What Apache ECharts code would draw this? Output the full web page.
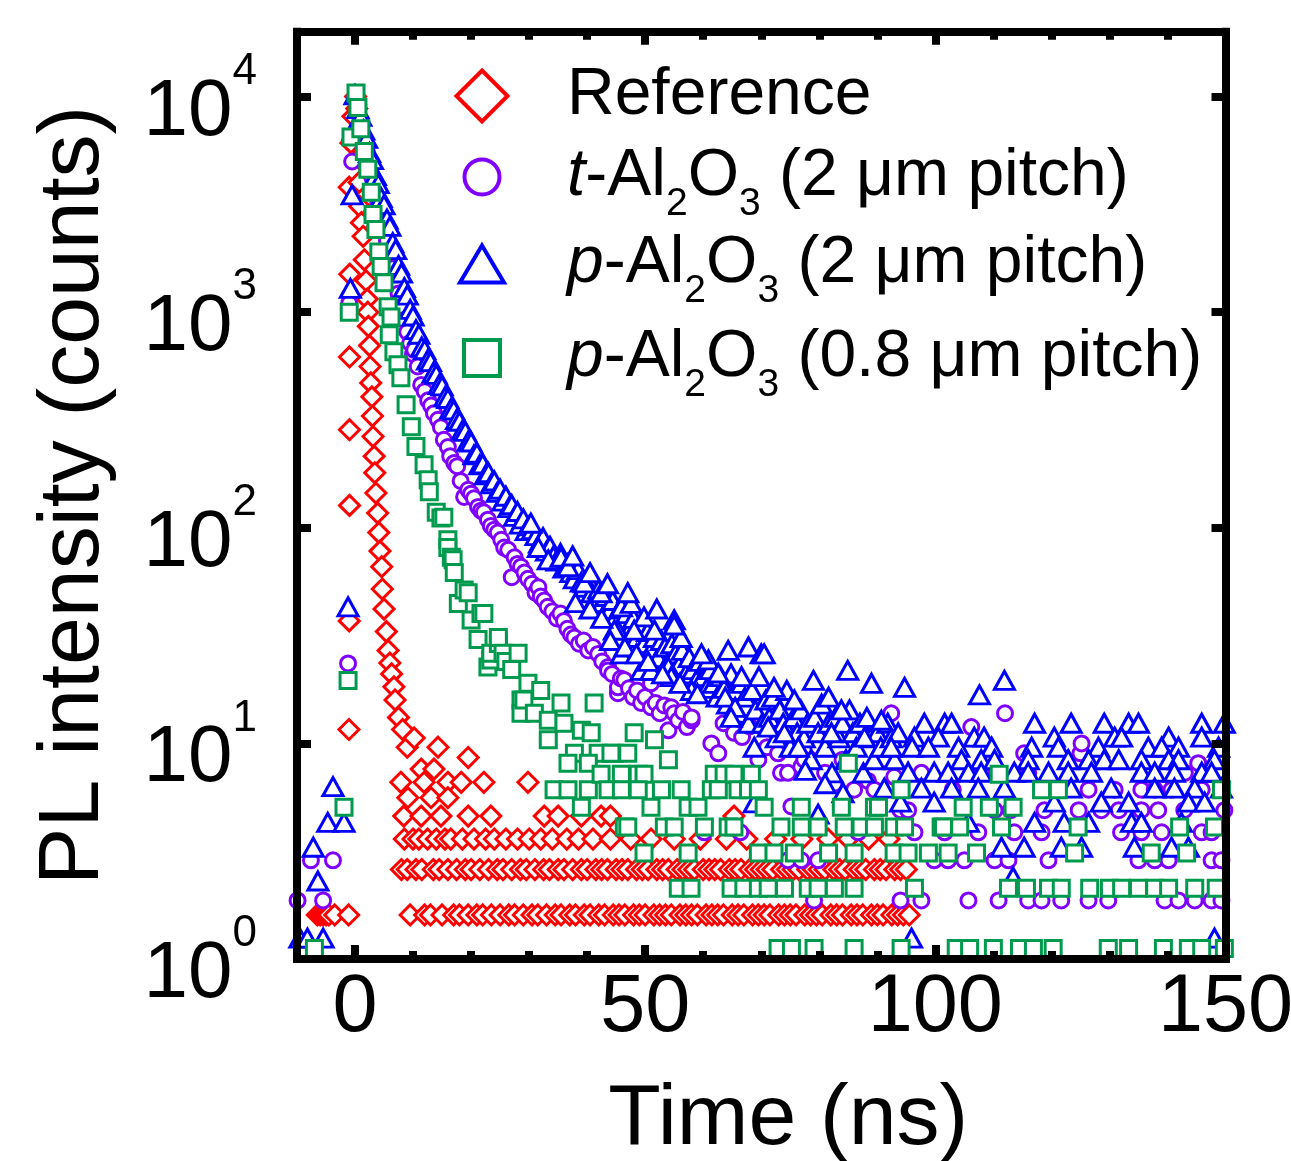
<!DOCTYPE html>
<html>
<head>
<meta charset="utf-8">
<script src="https://cdn.jsdelivr.net/npm/echarts@6/dist/echarts.min.js"></script>
<style>
  html, body { margin: 0; padding: 0; background: #fff; }
  #chart { width: 1291px; height: 1161px; }
</style>
</head>
<body>
<div id="chart"></div>
<script>
// PL decay traces, [time (ns), counts]

var referenceData = [
  [-6.5,1.6],[-6,1.6],[-5.5,1.6],[-5,1.6],[-4.5,1.6],[-3.5,1.6],[-1.1,1.6],
  [-1.05,11.6],[-1,37],[-0.95,127],[-0.95,285],[-0.95,620],[-0.9,1500],[-1,3800],[-0.7,6100],[-0.35,8100],
  [0.1,10000],[0.3,8800],[0.5,6800],[0.6,5200],[0.7,4000],[0.8,3100],[1.1,2600],[1.4,2250],[1.6,1750],[1.9,1400],
  [2.1,1150],[2.2,1000],[2.3,860],[2.5,700],[2.6,560],[2.7,470],[2.9,405],[3,330],[3.1,265],[3.3,215],[3.4,180],
  [3.6,145],[3.9,117],[4.1,95],[4.3,78],[4.6,66],[4.7,52],[5,42],[5.4,33],[5.7,27],[6,23.6],[6.3,21],[6.7,18.3],
  [6.9,15.9],[7.5,13.2],[8.2,11.6],[9,9.6],[10.2,10.6],
  [7.9,6.6],[8.4,4.6],[9.1,5.6],[11.4,7.6],[11.9,6.6],[11.4,4.6],[13.1,5.6],[13.6,7.6],[14.3,9.6],[14.8,4.6],
  [16,6.6],[16,5.6],[18.3,6.6],[19.5,8.6],[19.5,4.6],[22.2,6.6],[23.4,4.6],[29.8,6.6],[32.6,4.6],[35,4.6],
  [39,4.6],[42.4,4.6],[44,4.6],[65.3,4.6],
  [8,2.6],[8.5,3.6],[9,2.6],[9.5,1.6],[10,3.6],[10.5,2.6],[11,3.6],[11.5,2.6],[12,1.6],[12.5,3.6],[13,1.6],
  [13.5,2.6],[14,3.6],[14.5,2.6],[15,1.6],[15.5,3.6],[16,2.6],[16.5,3.6],[17,1.6],
  [17.5,2.6],[18,1.6],[18.5,3.6],[19,2.6],[19.5,1.6],[20,2.6],[20.5,3.6],[21,1.6],[21.5,2.6],[22,1.6],[22.5,3.6],
  [23,2.6],[23.5,1.6],[24,3.6],[24.5,2.6],[25,1.6],[25.5,2.6],[26,3.6],[26.5,1.6],[27,2.6],[27.5,1.6],[28,3.6],
  [28.5,2.6],[29,1.6],[29.5,2.6],[30,3.6],[30.5,1.6],[31,2.6],[31.5,1.6],[32,3.6],[32.5,2.6],[33,1.6],[33.5,2.6],
  [34,3.6],[34.5,1.6],[35,2.6],[35.5,1.6],[36,2.6],[36.5,3.6],[37,1.6],[37.5,2.6],[38,1.6],[38.5,3.6],[39,2.6],
  [39.5,1.6],[40,2.6],
  [40.5,1.6],[41,3.6],[41.5,2.6],[42,1.6],[42.5,2.6],[43,1.6],[43.5,2.6],[44,3.6],[44.5,1.6],[45,2.6],[45.5,1.6],
  [46,2.6],[46.5,1.6],[47,2.6],[47.5,3.6],[48,1.6],[48.5,2.6],[49,1.6],[49.5,2.6],[50,1.6],[50.5,2.6],[51,3.6],
  [51.5,1.6],[52,2.6],[52.5,1.6],[53,2.6],[53.5,1.6],[54,2.6],[54.5,1.6],[55,3.6],[55.5,2.6],[56,1.6],[56.5,2.6],
  [57,1.6],[57.5,2.6],[58,1.6],[58.5,2.6],[59,1.6],[59.5,3.6],[60,2.6],[60.5,1.6],[61,2.6],[61.5,1.6],[62,2.6],
  [62.5,1.6],[63,2.6],[63.5,1.6],[64,3.6],[64.5,2.6],[65,1.6],[65.5,2.6],[66,1.6],[66.5,2.6],[67,1.6],[67.5,3.6],
  [68,2.6],[68.5,1.6],[69,2.6],[69.5,1.6],[70,2.6],[70.5,1.6],[71,2.6],[71.5,1.6],[72,2.6],[72.5,3.6],[73,1.6],
  [73.5,2.6],[74,1.6],[74.5,2.6],[75,1.6],[75.5,2.6],[76,1.6],[76.5,2.6],[77,3.6],[77.5,1.6],[78,2.6],[78.5,1.6],
  [79,2.6],[79.5,1.6],[80,2.6],[80.5,1.6],[81,2.6],[81.5,3.6],[82,1.6],[82.5,2.6],[83,1.6],[83.5,2.6],[84,1.6],
  [84.5,2.6],[85,3.6],[85.5,1.6],[86,2.6],[86.5,1.6],[87,2.6],[87.5,1.6],[88,2.6],[88.5,3.6],[89,1.6],[89.5,2.6],
  [90,1.6],[90.5,2.6],[91,1.6],[91.5,2.6],[92,3.6],[92.5,1.6],[93,2.6],[93.5,1.6],[94,2.6],[94.5,1.6],[95,2.6],
  [95.5,1.6]
];

var tPitch2Data = [
  [-9.9,1.87],[-7.6,2.87],[-5.5,1.87],[-3.8,2.87],[-1.2,23.5],[-1,1100],[-0.5,5000],
  [0,9800],[0.5,8500],[1,7400],[1.5,6400],[2,5600],[2.5,4900],[3,4200],[3.5,3700],[4,3200],[4.5,2800],[5,2450],
  [5.5,2150],[6,1850],[6.5,1600],[7,1400],[7.5,1220],[8,1060],[8.5,920],[9,810],[9.5,720],[10,640],
  [10.2,668],[10.8,560],[11.4,460],[12,430],[12.6,390],[13.1,369],[13.6,340],[14.3,317],[14.8,293],[15.3,256],
  [16,237],[16.4,215],[17.1,200],[17.6,193],[18.2,165],[18.8,139],[19.5,150],[20,144],[20.5,137],[21.2,125],
  [21.7,120],[22.2,118],[22.9,109],[23.4,102],[24,98],[24.6,95],[25.2,88],[25.7,81],[26.4,79],[27,59],[27.5,73],
  [28,68],[28.6,66],[29.2,62],[29.8,58],[30.5,55],[31.1,50],[31.6,53],[32,48],[32.6,46],[33.2,43],[34,41],
  [34.8,38],[35.4,40],[36,37],[36.6,34],[37.2,32],[37.8,31],[38.6,29],[39.4,30],[40.2,27],[41,28],[41.9,26],
  [42.6,24],[43.6,22.6],[43.6,21.8],[44.3,21],[45.3,17.1],[45.3,18.2],[45.8,20],[46.4,19.7],[47.2,18],[47.9,16.4],
  [48.6,17.6],[49.3,15.4],[50,16.4],[51,14.7],[51,19],[51.8,15.4],[52.5,13.8],[53.3,15],[54,11.5],[54.5,14.7],
  [55,13.8],[55.7,12.8],[56.5,14],[57.2,11.9],[58,12.8],[58,13.2],
  [60.2,3.87],[61.4,10],[62.6,9],[63.5,12.4],[65.3,11.2],[66.4,3.87],[66.7,10.7],[68,12],[69.5,8.4],[71,9.6],
  [72.2,11.5],[72.9,9],[73.4,7.3],[74.6,7.3],[74.6,2.87],[75.2,5.1],[76.9,7.8],[76.9,2.87],[77.4,8.4],[79.1,1.87],
  [79.8,9.6],[79.8,2.87],[81,7.3],[82.6,6.5],[84,8.4],[86,6.1],[86.7,3.87],[88.4,6.7],[89.5,6.1],[91,8.4],
  [92.4,13.8],[92.9,7],[94,4.9],
  [94,1.87],[97.6,1.87],[105.7,1.87],[110.9,1.87],[116,1.87],[118.3,1.87],[121.7,1.87],[126.4,1.87],[129.8,1.87],
  [139.5,1.87],[141.9,1.87],[144.7,1.87],[147.6,1.87],[149.3,1.87],
  [99.8,2.87],[102.2,2.87],[105,2.87],[110.2,2.87],[112.6,2.87],[119.5,2.87],[135,2.87],[137.8,2.87],[140.2,2.87],
  [147.6,2.87],[149.3,2.87],
  [96.4,3.87],[101.6,3.87],[107.4,3.87],[113.6,3.87],[118.3,3.87],[132,3.87],[135.5,3.87],[139,3.87],[145.9,3.87],
  [147.6,3.87],
  [95.3,4.9],[110.2,4.9],[113,4.9],[118.8,4.9],[124.7,4.9],[128.6,4.9],[131.6,4.9],[135.5,4.9],[138.4,4.9],
  [142.9,4.9],[149.8,4.9],
  [103,6.1],[126.4,6.1],[130.9,6.1],[135.5,6.1],[137.8,6.1],[140.7,6.1],[145.9,6.1],
  [97.6,7.3],[108,7.3],[116,7.3],[143,7.3],[115.3,9],[125,9],[125.2,10],[106.2,11.9],[145.3,8.1],[112,13.8]
];

var pPitch2Data = [
  [-9.5,1.25],[-8.2,1.25],[-5.5,1.25],[-7.2,3.3],[-6.4,2.3],[-4.7,4.3],[-3.8,6.3],[-1.9,4.3],[-1.2,43],
  [-0.8,1290],[-0.5,3500],[-0.3,7000],
  [0,10200],[0.5,8800],[1,8100],[1.5,7000],[2,6400],[2.5,5500],[3,5100],[3.5,4300],[4,3950],[4.5,3400],[5,3150],
  [5.5,2700],[6,2500],[6.5,2100],[7,1950],[7.5,1650],[8,1520],[8.5,1300],[9,1200],[9.5,1030],[10,960],[10.5,830],
  [11,790],[11.5,690],[12,670],[12.5,600],[13,590],[13.5,525],[14,515],[14.5,462],[15,455],[15.5,405],[16,398],
  [16.5,356],[17,352],[17.5,318],[18,312],[18.5,283],[19,280],[19.5,252],[20,250],[20.5,218],[21,222],[21.5,196],
  [22,198],[22.5,176],[23,180],[23.5,160],[24,165],[24.5,146],[25,151],[25.5,133],[26,140],[26.5,124],[27,128],
  [27.5,113],[28,119],[28.5,104],[29,110],[29.5,97],[30,102],
  [30.6,98],[31.2,92],[31.8,85],[32.4,90],[33,78],[33.6,82],[34.2,74],[34.8,70],[35.4,76],[36,65],[36.6,68],
  [37.2,62],[37.8,58],[38.4,64],[39,56],[39.6,53],[40.2,58],[40.8,50],[41.4,47],[42,52],[42.6,45],[43.2,48],
  [43.8,41],[44.4,46],[45,39],[45.6,42],[46.2,36],[46.8,40],[47.4,34],[48,38],[48.6,31],[49.2,36],[49.8,29],
  [50.4,33],[51,27],[51.6,31],[52.2,25],[52.8,30],[53.4,28],[54,24],[54.6,29],[55.2,26],[55.8,23],[56.4,27],
  [57,21],[57.6,25],[58.2,22],[58.8,19.6],[59.4,24],[60,20.4],[60.6,18],[61.2,22],[61.8,19],[62.4,16.4],[63,20.4],
  [63.6,18],[64.2,15.2],[64.8,21],[65.4,17.6],[66,13.8],[66.6,19],[67.2,16.4],[67.8,12.4],[68.4,17.6],[69,14.3],
  [69.6,20.4],[70.2,12.4],[70.8,15.9],[71.4,13.2],[72,16.4],[72.6,10.6],[73.2,14.3],[73.8,12.4],[74.4,17.6],
  [75,9.6],[75.6,13.2],[76.2,11.2],[76.8,14.3],[77.4,10.6],[78,12.4],[78.6,8.4],[79.2,13.2],[79.8,11.2],[80.4,15.2],
  [81,9.6],[81.6,12.4],[82.2,7.3],[82.8,13.2],[83.4,10.6],[84,12.4],[84.6,8.4],[85.2,14.3],[85.8,11.2],[86.4,9.6],
  [87,12.4],[87.6,7.3],[88.2,13.2],[88.8,10.6],[89.4,8.4],[90,11.2],[90.6,9.6],[91.2,6.2],[91.8,12.4],[92.4,10.6],
  [93,8.4],[93.6,11.2],
  [30.3,105],[31.6,81],[33.3,71],[35.5,73],[36.7,66],[39.5,55.5],[42.4,50],[45.9,43],[47.6,44.6],[49.8,38.6],
  [55,37.4],[51.6,33.5],[45.3,33.5],[56.2,31],[64.3,27],[67.8,28],[70,26],[54,22.6],[60.9,24.4],[62.6,21.2],
  [66.6,20.4],[58,17.6],[63.8,16.4],[65.5,14.7],[49.3,21.8],[45.9,26],[44.7,33.5],[48.1,33.5],[55,35.4],
  [59.7,26],[70.5,26],[79,19.6],[84.9,21.8],[89,19],[94.7,18.2],[51,21.8],[54.5,20.4],[72.2,18.2],[75.7,15.9],
  [81.6,16.4],[83.8,14.3],[90.7,12.8],[64.8,13.2],[71.2,11.9],[74,11.2],[68.8,9.6],[76.4,9.6],[82.1,11.2],
  [87.8,10.7],[92.4,9.6],[77.6,7.5],[81,6.5],[84.1,5.9],[68.8,5.3],[79.8,4.7],
  [38,45],[40.5,42],[42.5,38],[44,30],[46.5,28],[48.5,26],[50.5,24],[53,21],[56,19],[59,17],
  [37.5,74],[40.5,62],[43.5,55],[47,50],[52,42],
  [98.1,12.4],[101.6,12.4],[102.8,12.4],[117.1,12.4],[123.4,12.4],[129.1,12.4],[133.3,12.4],[135,12.4],[145.9,12.4],
  [149.8,12.4],
  [96.4,10.7],[100.5,10.7],[106.7,10.7],[108.4,10.7],[120.5,10.7],[130.9,10.7],[132.1,10.7],[140.2,10.7],[145.9,10.7],
  [96,9.6],[98.8,9.6],[104,9.6],[109.7,9.6],[116.6,9.6],[121.2,9.6],[128.1,9.6],[136.7,9.6],[139,9.6],[141.9,9.6],
  [148.8,9.6],
  [104.5,8.4],[107.9,8.4],[110.2,8.4],[116,8.4],[122.9,8.4],[126.4,8.4],[129.1,8.4],[131.6,8.4],[135.5,8.4],
  [140.2,8.4],[141.9,8.4],[148.1,8.4],
  [95.3,7.35],[99.8,7.35],[102.2,7.35],[105.7,7.35],[107.9,7.35],[113.6,7.35],[116,7.35],[119.5,7.35],[122.9,7.35],
  [126.9,7.35],[135.5,7.35],[137.8,7.35],[141.2,7.35],[145.9,7.35],[147.6,7.35],
  [97.6,6.2],[102.8,6.2],[107.4,6.2],[111.9,6.2],[123.4,6.2],[130.3,6.2],[137.8,6.2],[141.2,6.2],[144.7,6.2],
  [149.3,6.2],
  [94,5.34],[99.8,5.34],[120.5,5.34],[128.6,5.34],[133.3,5.34],[143.6,5.34],[146.4,5.34],
  [105.7,4.3],[117.1,4.3],[122.2,4.3],[126.4,4.3],[133.8,4.3],[135.5,4.3],[142.4,4.3],
  [111.4,3.3],[115.3,3.3],[121.7,3.3],[125.2,3.3],[134.3,3.3],[140.7,3.3],[143.6,3.3],
  [113.4,2.4],[95.9,1.25],[148.1,1.25],[107.6,16.8],[111.9,19.6]
];

var pPitch08Data = [
  [-7,1.12],[-1.9,5.05],[-1.2,19.6],[-1,1000],[-0.7,6500],
  [0.17,10400],[0.5,8900],[1,7100],[1.6,5560],[2.2,4600],[2.8,3600],[3.1,2840],[3.6,2420],[4.1,1900],[4.5,1630],
  [5,1370],[5.7,1060],[6.2,950],[5.9,786],[6.7,656],[7.4,570],[7.9,497],[8.8,372],[9.7,294],[10.5,238],[11.9,196],
  [12.6,167],[12.8,147],[14,118],[14.8,111],[15.3,112],[16,88],[16,81],[16.6,73],[16.9,71],[17.1,62],[17.8,44.6],
  [18.8,51.5],[19.5,50],[20,37.4],[21.2,30.3],[21.7,40],[22.2,40],[22.9,22.6],[23.4,24.4],[23.4,26.2],[24.7,29.1],
  [24.7,31],[25.5,26.2],[26,24],[27,22],[28.1,26.2],[28.6,15.9],[28.6,13.8],[29.8,19],[29.1,15.9],[30.9,13.8],
  [32,17.6],[33.3,12.8],[33.3,10.4],[35.5,15.4],[36,12.4],[37.8,9],[36.7,8.1],[39,11.5],[40.7,11.2],[41.2,15.4],
  [41.9,9],[44.7,9],[40.2,8.1],[34.3,6.1],[36.7,6.1],[40.2,6.1],[39,5.05],[46.4,4.1],
  [48.1,11.2],[51.6,10.4],[54,8.4],[44.1,9],[47,9],
  [42.4,7.2],[45.9,7.2],[48.8,7.2],[49.8,7.2],[61.9,7.2],[63.6,7.2],[65.3,7.2],[68.3,7.2],[85,8.1],
  [43.6,6.1],[45.9,6.1],[48.8,6.1],[52.8,6.1],[56.2,6.1],[61.4,6.1],[62.6,6.1],[66,6.1],[67.8,6.1],[69.5,6.1],
  [94.1,6.1],
  [51,5.05],[57.4,5.05],[59.1,5.05],[70.5,5.05],[76.9,5.05],[83.8,5.05],[89.5,5.05],[90.2,5.05],
  [47,4.1],[53.3,4.1],[55,4.1],[60.2,4.1],[64.3,4.1],[65.3,4.1],[73.4,4.1],[76.9,4.1],[79.8,4.1],[84.3,4.1],
  [87.2,4.1],[89.5,4.1],[92.9,4.1],[94.7,4.1],[101,4.1],
  [49.8,3.1],[57.4,3.1],[69.5,3.1],[72.2,3.1],[75.7,3.1],[81.6,3.1],[86,3.1],[92.9,3.1],[95.3,3.1],[98.8,3.1],
  [102.2,3.1],
  [55.7,2.13],[57.9,2.13],[64.8,2.13],[67,2.13],[69.5,2.13],[71.2,2.13],[74,2.13],[78.1,2.13],[79.8,2.13],
  [82.6,2.13],[86,2.13],[96.4,2.13],
  [72.9,1.12],[75.2,1.12],[79.1,1.12],[86,1.12],[94.1,1.12],
  [111,7.2],[118.3,6.1],[121.2,6.1],[149.3,6.1],
  [104.8,5.05],[109.3,5.05],[113.4,5.05],
  [101.4,4.1],[104.2,4.1],[111.4,4.1],[124.6,4.1],[142.1,4.1],[148.1,4.1],
  [107.1,3.1],[124,3.1],[137.2,3.1],[143.3,3.1],
  [112.6,2.13],[115.7,2.13],[119.5,2.13],[121.7,2.13],[126.6,2.13],[130,2.13],[132.1,2.13],[135,2.13],[137.8,2.13],
  [140.2,2.13],[144.7,2.13],[148.4,2.13],
  [103.6,1.12],[105.9,1.12],[110,1.12],[114.5,1.12],[116.9,1.12],[120.3,1.12],[129.8,1.12],[133.3,1.12],[139.3,1.12],
  [143.6,1.12],[145.9,1.12],[149.8,1.12]
];

var seriesNames = ['Reference', 't-Al2O3 (2 μm pitch)', 'p-Al2O3 (2 μm pitch)', 'p-Al2O3 (0.8 μm pitch)'];
var xLabelValues = [0, 50, 100, 150];
var yTickValues = [1, 10, 100, 1000, 10000];

var FONT = 'Liberation Sans, Arial, sans-serif';
var colors = ['#ff0000', '#8000ff', '#0000ff', '#009a4e'];

var legendText = {};
legendText[seriesNames[0]] = '{n|Reference}';
legendText[seriesNames[1]] = '{i|t}{n|-Al}{s|2}{n|O}{s|3}{n| (2 μm pitch)}';
legendText[seriesNames[2]] = '{i|p}{n|-Al}{s|2}{n|O}{s|3}{n| (2 μm pitch)}';
legendText[seriesNames[3]] = '{i|p}{n|-Al}{s|2}{n|O}{s|3}{n| (0.8 μm pitch)}';

// subscripts hang below the main line (padding does not grow the line)
var legendRich = {
  n: { fontSize: 66, lineHeight: 66, fontFamily: FONT, color: '#000', verticalAlign: 'middle' },
  i: { fontSize: 66, lineHeight: 66, fontFamily: FONT, color: '#000', fontStyle: 'italic', verticalAlign: 'middle' },
  s: { fontSize: 39, lineHeight: 39, fontFamily: FONT, color: '#000', verticalAlign: 'top', padding: [41, 0, 0, 0] }
};

function makeLegend(idx, icon, w, h, centerY) {
  return {
    data: [{ name: seriesNames[idx], icon: icon }],
    left: 480 - w / 2,
    top: centerY - 33 + 2,
    orient: 'vertical',
    padding: 0,
    itemWidth: w,
    itemHeight: h,
    symbolKeepAspect: false,
    selectedMode: false,
    itemStyle: { color: '#fff', borderColor: colors[idx], borderWidth: 4 },
    textStyle: { padding: [0, 0, 0, 80 - w / 2], rich: legendRich },
    formatter: function (name) { return legendText[name]; }
  };
}

function makeSeries(idx, data, symbol, size) {
  return {
    name: seriesNames[idx],
    type: 'scatter',
    data: data,
    symbol: symbol,
    symbolSize: size,
    xAxisIndex: 0,
    yAxisIndex: 0,
    silent: true,
    itemStyle: { color: '#fff', borderColor: colors[idx], borderWidth: 3, opacity: 1 },
    emphasis: { disabled: true }
  };
}

function xAxisBase(position) {
  return {
    type: 'value', position: position, min: -10, max: 150, z: 10,
    axisLine: { show: false, onZero: false },
    axisLabel: { show: false },
    splitLine: { show: false }
  };
}

var frameLine = { show: true, onZero: false, lineStyle: { color: '#000', width: 8, cap: 'square' } };

var xBottomMinor = xAxisBase('bottom');
xBottomMinor.interval = 10;
xBottomMinor.axisLine = frameLine;
xBottomMinor.axisTick = { show: true, inside: true, length: 8, lineStyle: { color: '#000', width: 8 } };
xBottomMinor.axisLabel = {
  show: true, customValues: xLabelValues, margin: 9,
  fontSize: 81, fontFamily: FONT, color: '#000',
  formatter: function (v) { return String(v); }
};
xBottomMinor.name = 'Time (ns)';
xBottomMinor.nameLocation = 'middle';
xBottomMinor.nameGap = 118;
xBottomMinor.nameTextStyle = { fontSize: 86, fontFamily: FONT, color: '#000', padding: [0, 0, 0, 54] };

var xBottomMajor = xAxisBase('bottom');
xBottomMajor.axisTick = { show: true, inside: true, length: 14, customValues: xLabelValues, lineStyle: { color: '#000', width: 8 } };

var xTopMinor = xAxisBase('top');
xTopMinor.interval = 10;
xTopMinor.axisLine = frameLine;
xTopMinor.axisTick = { show: true, inside: true, length: 8, lineStyle: { color: '#000', width: 8 } };

var xTopMajor = xAxisBase('top');
xTopMajor.axisTick = { show: true, inside: true, length: 13, customValues: xLabelValues, lineStyle: { color: '#000', width: 8 } };

var option = {
  animation: false,
  backgroundColor: '#fff',
  grid: { left: 297, right: 65.5, top: 31.7, bottom: 202, containLabel: false, outerBoundsMode: 'none' },
  legend: [
    makeLegend(0, 'diamond', 51, 51, 94),
    makeLegend(1, 'circle', 35, 35, 175),
    makeLegend(2, 'triangle', 44, 37, 262),
    makeLegend(3, 'rect', 36, 36, 356)
  ],
  xAxis: [xBottomMinor, xBottomMajor, xTopMinor, xTopMajor],
  yAxis: [
    {
      type: 'log', logBase: 10, min: 1, max: 20000, position: 'left', z: 10,
      axisLine: frameLine,
      axisTick: { show: true, inside: true, length: 14, customValues: yTickValues, lineStyle: { color: '#000', width: 8 } },
      minorTick: { show: false },
      splitLine: { show: false },
      axisLabel: {
        show: true, customValues: yTickValues, margin: 40, padding: [9, 0, 0, 0],
        formatter: function (v) { return '{b|10}{s|' + Math.round(Math.log10(v)) + '}'; },
        rich: {
          b: { fontSize: 80, lineHeight: 80, fontFamily: FONT, color: '#000', verticalAlign: 'bottom' },
          s: { fontSize: 44, lineHeight: 103, fontFamily: FONT, color: '#000', verticalAlign: 'top' }
        }
      },
      name: 'PL intensity (counts)', nameLocation: 'middle', nameGap: 180,
      nameTextStyle: { fontSize: 86, fontFamily: FONT, color: '#000' }
    },
    {
      type: 'log', logBase: 10, min: 1, max: 20000, position: 'right', z: 10,
      axisLine: frameLine,
      axisTick: { show: true, inside: true, length: 14, customValues: yTickValues, lineStyle: { color: '#000', width: 8 } },
      minorTick: { show: false },
      splitLine: { show: false },
      axisLabel: { show: false }
    }
  ],
  series: [
    makeSeries(0, referenceData, 'diamond', 20),
    makeSeries(1, tPitch2Data, 'circle', 15),
    makeSeries(2, pPitch2Data, 'triangle', [20, 18]),
    makeSeries(3, pPitch08Data, 'rect', 16)
  ]
};

var chart = echarts.init(document.getElementById('chart'), null, { renderer: 'canvas' });
chart.setOption(option);
</script>
</body>
</html>
